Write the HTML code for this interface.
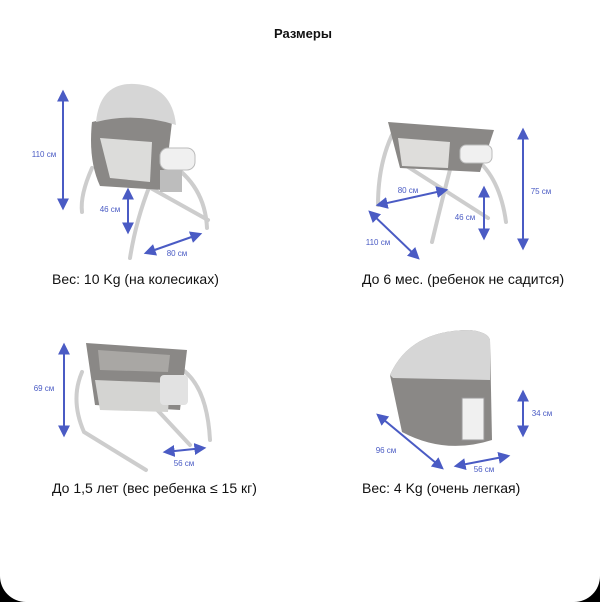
<!DOCTYPE html>
<html><head><meta charset="utf-8"><style>
html,body{margin:0;padding:0;background:#000;}
.card{position:absolute;left:0;top:0;width:600px;height:602px;background:#fff;border-radius:0 0 26px 26px;overflow:hidden;}
svg{position:absolute;left:0;top:0}
text{font-family:"Liberation Sans",sans-serif}
</style></head><body><div class="card">
<svg width="600" height="602" viewBox="0 0 600 602">
<defs>
<marker id="a" viewBox="0 0 10 10" refX="8" refY="5" markerWidth="6" markerHeight="6" orient="auto-start-reverse"><path d="M0,0L10,5L0,10z" fill="#4a5bc4"/></marker>
</defs>
<text x="303" y="38" font-size="13" font-weight="bold" text-anchor="middle" fill="#111">Размеры</text>
<!-- frames -->
<g fill="none" stroke="#cdcdcd" stroke-width="4" stroke-linecap="round">
<path d="M92,168 Q80,195 82,212"/><path d="M150,185 Q136,220 130,258"/>
<path d="M168,162 Q205,185 207,228"/><path d="M140,182 L208,220"/>
<path d="M392,135 Q378,165 378,205"/><path d="M475,158 Q500,178 506,222"/><path d="M405,165 L488,218"/><path d="M452,162 Q442,200 432,242"/>
<path d="M82,372 Q70,400 84,432 L146,470"/><path d="M180,368 Q207,385 210,440"/><path d="M148,400 L190,445"/>
</g>
<!-- product 1 -->
<path d="M92,122 Q130,112 172,122 L164,190 L100,186 Q88,160 92,122 Z" fill="#8a8886"/>
<path d="M100,138 L152,142 L150,182 L110,178Z" fill="#dcdcda"/>
<path d="M96,122 Q100,82 135,84 Q172,86 176,125 Q135,112 96,122Z" fill="#d6d6d6"/>
<rect x="160" y="148" width="35" height="22" rx="8" fill="#f0f0f0" stroke="#bbb"/>
<rect x="160" y="170" width="22" height="22" fill="#bdbdbd"/>
<!-- product 2 -->
<path d="M388,122 L494,130 L480,172 L400,168 Z" fill="#8a8886"/>
<path d="M398,138 L450,142 L448,168 L402,166Z" fill="#dedddb"/>
<rect x="460" y="145" width="32" height="18" rx="6" fill="#f0f0f0" stroke="#bbb"/>
<!-- product 3 -->
<path d="M86,343 L187,350 L180,410 L95,405 Z" fill="#8a8886"/>
<path d="M98,350 L170,355 L168,372 L100,370Z" fill="#a9a7a4"/>
<path d="M95,380 L170,383 L168,412 L100,410Z" fill="#d4d4d2"/>
<rect x="160" y="375" width="28" height="30" rx="4" fill="#e2e2e2"/>
<!-- product 4 -->
<path d="M390,375 Q410,330 470,330 Q488,332 490,340 L492,440 Q445,455 402,432 Z" fill="#8a8886"/>
<path d="M390,375 Q410,330 470,330 Q488,332 490,340 L490,380 L393,378Z" fill="#d6d6d6"/>
<rect x="462" y="398" width="22" height="42" fill="#f0f0f0" stroke="#999"/>
<!-- arrows -->
<g stroke="#4a5bc4" stroke-width="2" marker-start="url(#a)" marker-end="url(#a)" fill="none">
<line x1="63" y1="92" x2="63" y2="208"/>
<line x1="128" y1="190" x2="128" y2="232"/>
<line x1="146" y1="253" x2="200" y2="234"/>
<line x1="523" y1="130" x2="523" y2="248"/>
<line x1="378" y1="205" x2="446" y2="190"/>
<line x1="484" y1="188" x2="484" y2="238"/>
<line x1="370" y1="212" x2="418" y2="258"/>
<line x1="64" y1="345" x2="64" y2="435"/>
<line x1="165" y1="452" x2="204" y2="448"/>
<line x1="523" y1="392" x2="523" y2="435"/>
<line x1="378" y1="415" x2="442" y2="468"/>
<line x1="456" y1="466" x2="508" y2="456"/>
</g>
<g font-size="8" fill="#4a5bc4" text-anchor="middle">
<text x="44" y="157">110 см</text><text x="110" y="212">46 см</text><text x="177" y="256">80 см</text>
<text x="541" y="194">75 см</text><text x="408" y="193">80 см</text><text x="465" y="220">46 см</text><text x="378" y="245">110 см</text>
<text x="44" y="391">69 см</text><text x="184" y="466">56 см</text>
<text x="542" y="416">34 см</text><text x="386" y="453">96 см</text><text x="484" y="472">56 см</text>
</g>
<g font-size="14" fill="#111">
<text x="52" y="284">Вес: 10 Kg (на колесиках)</text>
<text x="362" y="284">До 6 мес. (ребенок не садится)</text>
<text x="52" y="493">До 1,5 лет (вес ребенка ≤ 15 кг)</text>
<text x="362" y="493">Вес: 4 Kg (очень легкая)</text>
</g>
</svg></div></body></html>
